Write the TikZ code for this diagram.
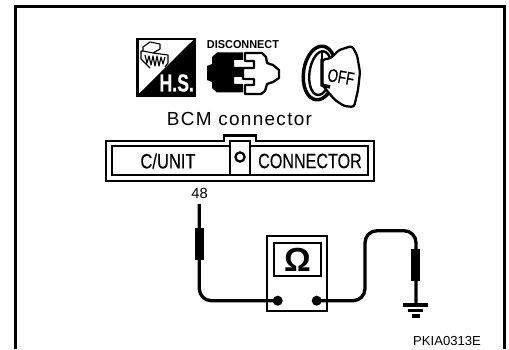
\documentclass[tikz,border=0pt]{standalone}
\usepackage{fontspec}
\setmainfont{Liberation Sans}
\tikzset{
  x=0.75pt,y=-0.75pt,
  frameline/.style={line width=2.4pt},
  wire/.style={line width=2.5pt,rounded corners=9pt},
  thin2/.style={line width=1.7pt},
  probe/.style={fill=black,draw=none},
  lbl/.style={inner sep=0pt,outer sep=0pt,text=black},
}
\begin{document}
\begin{tikzpicture}
\useasboundingbox (0,0) rectangle (509,349);
\fill[white] (0,0) rectangle (509,349);
% frame
\draw[frameline] (15.5,349) -- (15.5,6.5) -- (504.5,6.5) -- (504.5,349);
% H.S. icon
\draw[thin2,fill=white] (137.4,39) rectangle (194.4,95.4);
\fill (136.7,96) -- (195,38.3) -- (195,96) -- cycle;
\node[lbl,text=white,font=\bfseries\fontsize{18.5}{18.5}\selectfont] (hs) at (176.7,83) {\addfontfeature{FakeBold=0.4}\scalebox{0.72}[1]{H.S.}};
\draw[line width=0.85pt,line join=round] (143,47) -- (150,42) -- (160,44) -- (160,49) -- (153,53) -- (143,51) -- cycle (143,51) -- (141,51) -- (141,59) -- (150,68) (153,53) -- (168,55) -- (168,63) -- (165,67)
 (145,55) -- (147,63) -- (149,56) -- (151,65) -- (153,56) -- (155,66) -- (157,56) -- (159,66) -- (161,57) -- (163,64) -- (165,57);
% disconnect
\node[lbl,font=\bfseries\fontsize{8.6}{8.6}\selectfont] (disc) at (243,45) {\scalebox{0.95}[1]{DISCONNECT}};
\fill (217,52.5) -- (243,52.5) -- (243,60) -- (234,60) -- (234,67) -- (243,67) -- (243,77) -- (234,77) -- (234,84) -- (243,84) -- (243,92.5) -- (217,92.5) -- (212,88) -- (212,82) -- (207,80) -- (207,66) -- (212,64) -- (212,57) -- cycle;
\draw[thin2,line join=round] (245,61) -- (245,53) -- (262,53) -- (266,57) -- (267,63) -- (273,65) -- (279,70) -- (279,78) -- (273,82) -- (267,84) -- (265,91) -- (261,94) -- (245,94) -- (245,85) -- (254,85) -- (254,79) -- (243,79) -- (243,68) -- (254,68) -- (254,61) -- cycle;
% key
\begin{scope}[shift={(319.5,73)},rotate=-8]
\draw[line width=2.6pt] (0,0) ellipse (16 and 27);
\draw[line width=1.8pt] (1,0) ellipse (11 and 22);
\end{scope}
\draw[thin2,line join=round,fill=white,rounded corners=2pt] (322,60) -- (331,58) -- (339,50) -- (352,46) -- (357,55) -- (360,72) -- (358,90) -- (354,107) -- (344,106) -- (335,100) -- (328,92) -- (325,88) -- (322,85) -- cycle;
\draw[line width=2.6pt] (322,59) -- (322,85) -- (330,87);
\draw[line width=0.9pt] (322,60) -- (322,50);
\node[lbl,font=\fontsize{12.5}{12.5}\selectfont,rotate=-10] (off) at (341,77) {\addfontfeature{FakeBold=0.2}\scalebox{0.8}[1.1]{OFF}};
% title
\node[lbl,font=\fontsize{14.2}{14.2}\selectfont] (title) at (239.5,118.5) {\addfontfeature{LetterSpace=7}BCM connector};
% BCM connector
\draw[thin2,line join=miter] (105.7,141) -- (224,141) -- (224,135.5) -- (256,135.5) -- (256,141) -- (374,141) -- (374,181) -- (105.7,181) -- cycle;
\draw[thin2] (112,146) rectangle (368,175);
\draw[line width=1.9pt,fill=white] (230,141) rectangle (250,175);
\draw[line width=1.7pt] (240,157) circle (4.6);
\node[lbl,font=\fontsize{15.5}{15.5}\selectfont] (cunit) at (168,161) {\addfontfeature{FakeBold=0.25}\scalebox{0.8}[1]{C/UNIT}};
\node[lbl,font=\fontsize{15.5}{15.5}\selectfont] (conn) at (310,161) {\addfontfeature{FakeBold=0.25}\scalebox{0.78}[1]{CONNECTOR}};
\node[lbl,font=\fontsize{11}{11}\selectfont] (n48) at (199.5,193.5) {48};
% wires
\coordinate (lw) at (199.3,204);
\coordinate (gw) at (416,304);
\node[circle,fill=black,inner sep=0pt,minimum size=7.5pt] (d1) at (277.7,300.7) {};
\node[circle,fill=black,inner sep=0pt,minimum size=7.5pt] (d2) at (316.7,300.7) {};
\draw[wire] (lw) -- (199.3,300.7) -- (d1.center);
\draw[wire] (d2.center) -- (365,300.7) -- (365,230.7) -- (416,230.7) -- (gw);
\fill[probe] (195.3,228.3) rectangle (204.3,260);
\fill[probe] (411.3,249) rectangle (420.3,280.7);
% meter
\node[draw,line width=1.6pt,minimum width=45pt,minimum height=56.2pt,inner sep=0pt] (meter) at (297.3,273.2) {};
\node[draw,line width=1.6pt,minimum width=34.8pt,minimum height=24.3pt,inner sep=0pt,font=\bfseries\fontsize{25}{25}\selectfont] (screen) at (297.5,259.5) {\symbol{"03A9}};
% ground
\draw[line width=2.4pt] (403.3,305) -- (428,305) (408.3,310.5) -- (423.3,310.5) (411.7,316) -- (420,316);
\node[lbl,font=\fontsize{9.8}{9.8}\selectfont] (code) at (447,341) {PKIA0313E};
\end{tikzpicture}
\end{document}
